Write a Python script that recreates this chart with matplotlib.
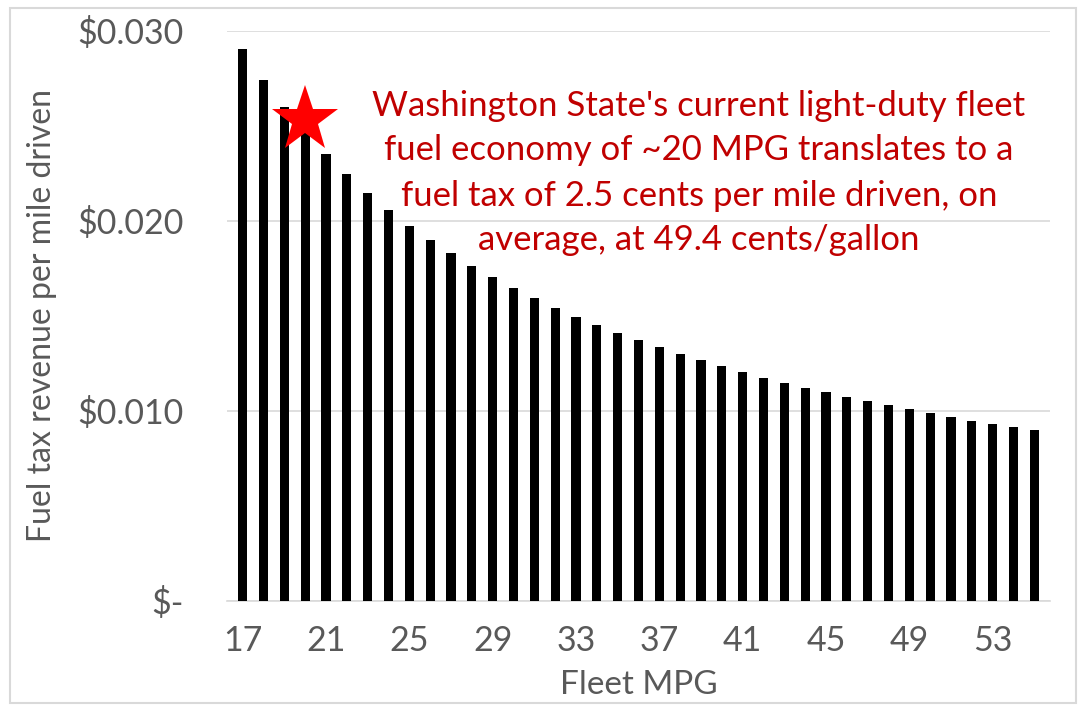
import matplotlib
matplotlib.use("Agg")
import matplotlib.pyplot as plt
from matplotlib.patches import Rectangle

mpg = list(range(17, 56))
revenue = [0.02906, 0.02744, 0.02600, 0.02470, 0.02352, 0.02245, 0.02148, 0.02058,
           0.01976, 0.01900, 0.01830, 0.01764, 0.01703, 0.01647, 0.01594, 0.01544,
           0.01497, 0.01453, 0.01411, 0.01372, 0.01335, 0.01300, 0.01267, 0.01235,
           0.01205, 0.01176, 0.01149, 0.01123, 0.01098, 0.01074, 0.01051, 0.01029,
           0.01008, 0.00988, 0.00969, 0.00950, 0.00932, 0.00915, 0.00898]
star_mpg = 20
star_value = 0.0253
yticks = [0.0, 0.010, 0.020, 0.030]
ytick_labels = ["$-", "$0.010", "$0.020", "$0.030"]
xtick_labels = [17, 21, 25, 29, 33, 37, 41, 45, 49, 53]
note = ("Washington State's current light-duty fleet\n"
        "fuel economy of ~20 MPG translates to a\n"
        "fuel tax of 2.5 cents per mile driven, on\n"
        "average, at 49.4 cents/gallon")

plt.rcParams['font.family'] = ['Lato', 'DejaVu Sans']
grey = "#595959"

fig = plt.figure(figsize=(10.86, 7.09), dpi=100)
fig.patches.append(Rectangle((0.009, 0.009), 0.982, 0.980, transform=fig.transFigure,
                             fill=False, edgecolor="#d9d9d9", linewidth=1.5))
ax = fig.add_axes([227/1086, 1 - 601/709, (1050-227)/1086, (601-31)/709])

x = list(range(len(mpg)))
ax.bar(x, revenue, width=0.44, color="black", zorder=3)
ax.set_xlim(-0.75, len(mpg) - 0.25)
ax.set_ylim(0, 0.030)

ax.set_yticks(yticks)
ax.set_yticklabels(ytick_labels)
ax.set_xticks([mpg.index(v) for v in xtick_labels])
ax.set_xticklabels([str(v) for v in xtick_labels])
ax.tick_params(axis="both", length=0, labelsize=24.5, labelcolor=grey)
ax.tick_params(axis="y", pad=31)
ax.tick_params(axis="x", pad=17)

ax.grid(axis="y", color="#d9d9d9", linewidth=1.2, zorder=0)
for s in ["left", "right", "top"]:
    ax.spines[s].set_visible(False)
ax.spines["bottom"].set_color("#d9d9d9")
ax.spines["bottom"].set_linewidth(1.2)

ax.set_xlabel("Fleet MPG", fontsize=24, color=grey, labelpad=10)
ax.set_ylabel("Fuel tax revenue per mile driven", fontsize=23, color=grey, labelpad=15)

ax.plot([mpg.index(star_mpg)], [star_value], marker="*", color="#ff0000",
        markersize=50, markeredgewidth=0, zorder=4, clip_on=False)

ax.text(699/1086, 1 - 173/709, note, transform=fig.transFigure, ha="center", va="center",
        fontsize=25, color="#c00000", linespacing=1.5)

fig.savefig("out.png", dpi=100)
